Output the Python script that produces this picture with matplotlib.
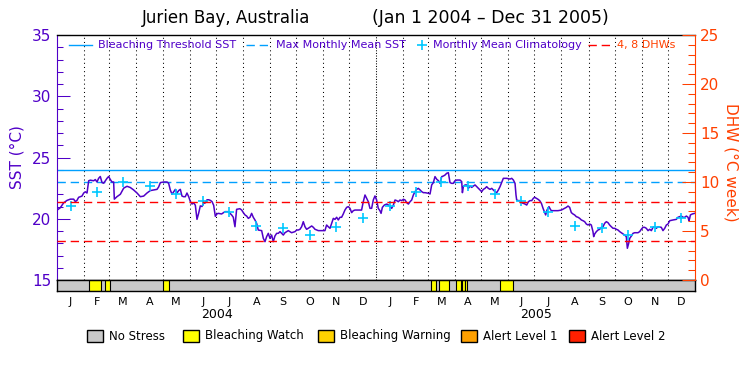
import numpy as np
import matplotlib
matplotlib.use('Agg')

import matplotlib.pyplot as plt
import matplotlib.transforms as mtransforms
from matplotlib.patches import Rectangle


TITLE_LEFT = 'Jurien Bay, Australia'
TITLE_RIGHT = '(Jan 1 2004 \u2013 Dec 31 2005)'
START = np.datetime64('2004-01-01')

# daily SST trace (day offset from Jan 1 2004, deg C)
sst_day = [
    0, 3.8, 7.6, 11.5, 15.3, 19.1, 21, 22.9, 24.8, 28.6, 30.6, 32.5, 34.4, 36.3, 38.2, 42, 43.9,
    45.8, 47.7, 49.6, 51.6, 53.5, 55.4, 57.3, 59.2, 61.1, 63, 64.9, 65.7, 68.7, 72.6, 76.4, 80.2,
    84, 87.8, 91.7, 95.5, 99.3, 103.1, 106.9, 110.8, 114.6, 116.5, 118.4, 122.2, 126, 127.9,
    129.8, 131.8, 133.7, 135.6, 137.5, 139.4, 141.3, 143.2, 145.1, 147, 148.9, 150.9, 152.8,
    154.7, 156.6, 158.5, 160.4, 162.3, 164.2, 166.1, 168, 170, 171.9, 173.8, 175.7, 177.6,
    179.5, 181.4, 183.3, 184.8, 188.6, 192.5, 196.3, 200.1, 202, 203.9, 205.8, 209.6, 211.6,
    213.5, 215.4, 217.3, 219.2, 221.1, 223, 224.9, 226.8, 228.7, 230.6, 234.5, 236.4, 238.3,
    240.2, 242.1, 244, 245.9, 247.8, 249.7, 251.7, 253.6, 255.5, 257.4, 259.3, 261.2, 265,
    268.8, 272.7, 274.6, 276.5, 278.4, 280.3, 282.2, 284.1, 286, 287.9, 291.8, 293.7, 295.6,
    299.4, 303.2, 307, 308.9, 310.8, 312.8, 316.6, 318.5, 320.4, 322.3, 324.2, 326.1, 328,
    329.9, 331.9, 333.8, 335.7, 337.6, 339.5, 341.4, 349, 350.9, 352.9, 354.8, 356.7, 358.6,
    360.5, 362.4, 364.3, 366.2, 368.1, 370, 371.3, 372.8, 375.1, 377.8, 379.7, 381.6, 383.5,
    385.4, 387.3, 389.2, 391.1, 393, 395, 396.9, 398.8, 400.7, 402.6, 404.5, 406.4, 408.3,
    410.2, 412.1, 414, 416, 417.9, 419.8, 421.7, 425.5, 427.4, 429.3, 431.2, 433.1, 435.1, 437,
    438.9, 440.8, 442.7, 444.6, 446.5, 448.4, 450.3, 452.2, 454.1, 456.1, 458, 461.8, 463.7,
    464.5, 465.6, 467.5, 469.4, 471.3, 473.2, 475.2, 477.1, 479, 480.9, 482.8, 484.7, 486.6,
    488.5, 490.4, 492.3, 494.2, 496.2, 498.1, 500, 501.9, 503.8, 505.7, 507.6, 509.5, 511.4,
    515.2, 519.1, 521, 522.9, 524.8, 525.9, 526.7, 528.6, 530.5, 532.4, 534.3, 536.3, 538.2,
    540.1, 542, 543.9, 545.8, 547.3, 549.2, 551.1, 553, 555, 556.9, 558.8, 559.9, 561.4, 563.7,
    565.3, 566.4, 570.2, 574, 577.9, 581.7, 583.6, 585.5, 587.4, 589.3, 591.2, 593.1, 595, 597,
    598.9, 600.8, 602.7, 604.6, 606.5, 608.4, 610.3, 612.2, 614.1, 614.9, 616.1, 618, 619.9,
    621.8, 623.7, 625.6, 627.5, 629.4, 631.3, 633.2, 635.1, 637.1, 639, 640.9, 642.8, 644.7,
    646.6, 648.5, 650.4, 652.3, 653.5, 655, 656.2, 658.1, 660, 661.9, 665.7, 667.6, 669.5,
    671.4, 673.3, 675.2, 677.2, 679.1, 681, 682.9, 684.8, 686.7, 688.6, 692.4, 694.3, 696.3,
    698.2, 700.1, 702, 705.8, 709.6, 711.5, 713.4, 715.3, 717.3, 719.2, 721.1, 723, 724.1,
    724.9, 725.7, 727.9, 730.6,
]
sst_val = [
    20.7, 20.9, 21.3, 21.5, 21.6, 21.6, 21.4, 21.5, 21.75, 21.85, 22.1, 22.2, 22.1, 23.1, 23.15,
    23.1, 23.2, 23.0, 23.3, 23.45, 22.95, 22.9, 23.1, 23.3, 23.45, 23.2, 23.0, 23.0, 21.6, 21.8,
    22.0, 22.5, 22.65, 22.55, 22.35, 22.1, 21.8, 21.85, 22.1, 22.3, 22.35, 22.4, 22.6, 22.95,
    23.0, 23.0, 22.9, 22.35, 22.0, 22.2, 22.4, 22.1, 22.3, 22.4, 21.85, 21.8, 21.8, 22.1, 21.8,
    21.4, 21.2, 21.3, 21.1, 19.95, 20.45, 21.05, 21.0, 21.25, 21.3, 21.55, 21.55, 21.5, 21.4,
    21.1, 20.2, 20.4, 20.44, 20.39, 20.58, 20.58, 20.31, 20.12, 19.35, 20.77, 20.82, 20.71,
    20.5, 20.31, 20.22, 20.03, 20.12, 20.44, 20.12, 19.9, 19.63, 19.08, 19.03, 18.4, 18.13,
    18.54, 18.81, 18.4, 18.67, 18.13, 18.59, 18.81, 18.81, 18.95, 18.81, 18.67, 18.86, 19.03,
    18.86, 18.95, 19.08, 19.08, 19.14, 19.35, 19.76, 19.35, 19.14, 19.22, 19.41, 19.3, 19.14,
    19.03, 19.03, 19.03, 19.49, 19.35, 19.22, 20.03, 19.95, 20.12, 19.9, 20.12, 20.12, 20.39,
    20.71, 20.93, 20.99, 20.85, 20.5, 20.66, 20.71, 20.71, 21.39, 21.94, 21.67, 21.39, 20.85,
    20.85, 21.53, 21.86, 21.53, 20.85, 20.66, 20.44, 20.93, 21.12, 21.2, 21.12, 20.99, 20.85,
    21.12, 21.53, 21.48, 21.39, 21.53, 21.48, 21.59, 21.53, 21.31, 21.2, 21.39, 21.53, 21.94,
    22.21, 22.4, 22.48, 22.35, 22.21, 22.13, 22.13, 22.08, 22.02, 22.76, 22.95, 23.44, 23.22,
    23.11, 22.89, 23.44, 23.49, 23.57, 23.71, 23.76, 22.95, 22.89, 22.89, 23.11, 23.16, 23.16,
    23.03, 22.13, 22.62, 22.76, 22.76, 22.48, 22.67, 22.56, 22.67, 22.76, 22.62, 22.48, 22.35,
    22.21, 22.4, 22.48, 22.62, 22.48, 22.4, 22.48, 22.35, 22.21, 22.13, 22.35, 22.62, 22.95,
    23.3, 23.3, 23.24, 23.3, 23.16, 22.89, 21.94, 21.53, 21.48, 21.48, 21.31, 21.26, 21.2,
    21.12, 21.39, 21.48, 21.48, 21.67, 21.75, 21.67, 21.59, 21.48, 21.26, 20.85, 20.5, 20.31,
    20.71, 20.99, 20.77, 20.66, 20.66, 20.66, 20.71, 20.85, 20.93, 21.04, 20.93, 20.5, 20.39,
    20.31, 20.17, 20.12, 20.03, 19.9, 19.84, 19.76, 19.57, 19.49, 19.57, 19.49, 18.95, 18.54,
    18.76, 18.95, 19.08, 19.14, 19.3, 19.35, 19.63, 19.76, 19.68, 19.49, 19.35, 19.22, 19.22,
    19.14, 19.08, 18.95, 18.86, 18.76, 18.67, 18.54, 17.59, 17.99, 18.4, 18.59, 18.81, 18.86,
    18.86, 18.95, 19.14, 19.3, 19.3, 19.22, 19.03, 19.14, 19.03, 19.3, 19.35, 19.22, 19.35,
    19.3, 19.03, 19.22, 19.49, 19.57, 19.84, 19.9, 19.95, 20.12, 20.17, 20.22, 20.12, 20.12,
    20.22, 20.12, 19.84, 20.03, 20.31, 20.39, 20.44,
]

# monthly mean climatology (Jan..Dec), deg C
clim_sst = [21.07, 22.16, 22.97, 22.67, 22.02, 21.45, 20.52, 19.43, 19.22, 18.67, 19.35, 20.03]
mmm_sst = 23.0
threshold_sst = 24.0
dhw_levels = [4, 8]

# stress periods (day offsets), level index into stress_names
stress_start = [37, 55, 121, 429, 438, 457, 464.5, 468, 508]
stress_end = [50, 61, 128, 434, 449, 463, 467, 470, 523]
stress_level = [1, 1, 1, 1, 1, 1, 1, 1, 1]

stress_names = ['No Stress', 'Bleaching Watch', 'Bleaching Warning', 'Alert Level 1', 'Alert Level 2']
stress_colors = ['#c8c8c8', '#ffff00', '#ffd200', '#ffa000', '#ff2000']
month_letters = list('JFMAMJJASOND')
year_labels = ['2004', '2005']

legend_labels = ['Bleaching Threshold SST', 'Max Monthly Mean SST', 'Monthly Mean Climatology', '4, 8 DHWs']

PURPLE = '#5000c8'
ORANGE = '#ff4000'
RED = '#ff0000'
BLUE = '#00a0ff'
CYAN = '#00c8ff'
DASH = (0, (6, 3.5))

W, H = 750.0, 375.0
AX_L, AX_R, AX_T, AX_B = 57, 695, 35, 280

months = np.arange('2004-01', '2006-02', dtype='datetime64[M]')
month_start = (months.astype('datetime64[D]') - START).astype(int)
month_mid = (month_start[:-1] + month_start[1:]) / 2.0
year_start = month_start[::12]
year_mid = (year_start[:-1] + year_start[1:]) / 2.0
n_days = month_start[-1]

fig = plt.figure(figsize=(7.5, 3.75), dpi=100)
ax = fig.add_axes([AX_L / W, 1 - AX_B / H, (AX_R - AX_L) / W, (AX_B - AX_T) / H])
ax_bar = fig.add_axes([AX_L / W, 1 - 291 / H, (AX_R - AX_L) / W, 11 / H])

ax.set_xlim(0, n_days)
ax.set_ylim(15, 35)
ax.set_xticks([])

# month grid
for d in month_start[1:-1]:
    style = (0, (1, 1.5)) if d in year_start else (0, (1, 3))
    ax.axvline(d, color='black', lw=0.75, ls=style, zorder=1)

ax.axhline(threshold_sst, color=BLUE, lw=1.0, zorder=2)
ax.axhline(mmm_sst, color=BLUE, lw=1.0, ls=DASH, zorder=2)
ax.plot(month_mid, np.tile(clim_sst, 2), ls='none', marker='+', color=CYAN, ms=7, mew=1.2, zorder=4)
ax.plot(sst_day, sst_val, color=PURPLE, lw=1.1, zorder=3)

ax.set_yticks(np.arange(15, 36, 5))
ax.set_yticks(np.arange(15, 36, 1), minor=True)
ax.tick_params(axis='y', which='major', direction='in', length=9.5, width=0.75, color=PURPLE,
               labelcolor=PURPLE, labelsize=11, pad=4)
ax.tick_params(axis='y', which='minor', direction='in', length=4.5, width=0.75, color=PURPLE)
ax.spines['left'].set_color(PURPLE)
ax.spines['right'].set_visible(False)
for s in ['top', 'bottom']:
    ax.spines[s].set_color('black')
    ax.spines[s].set_linewidth(1.0)

ax2 = ax.twinx()
ax2.set_ylim(0, 25)
for lvl in dhw_levels:
    ax2.axhline(lvl, color=RED, lw=1.0, ls=DASH, zorder=2)
ax2.set_yticks(np.arange(0, 26, 5))
ax2.set_yticks(np.arange(0, 26, 1), minor=True)
ax2.tick_params(axis='y', which='major', direction='in', length=9.5, width=0.75, color=ORANGE,
                labelcolor=ORANGE, labelsize=11, pad=3.5)
ax2.tick_params(axis='y', which='minor', direction='in', length=5, width=0.75, color=ORANGE)
ax2.spines['right'].set_color(ORANGE)
for s in ['left', 'top', 'bottom']:
    ax2.spines[s].set_visible(False)


# in-plot legend, drawn by hand so each entry sits where the original has it
def axfrac(px):
    return (px - AX_L) / (AX_R - AX_L)


leg_y = (AX_B - 45) / (AX_B - AX_T)
kw = dict(transform=ax2.transAxes, clip_on=False)
ax2.plot([axfrac(69), axfrac(92)], [leg_y, leg_y], color=BLUE, lw=1.0, **kw)
ax2.plot([axfrac(246), axfrac(270)], [leg_y, leg_y], color=BLUE, lw=1.0, ls=DASH, **kw)
ax2.plot([axfrac(421.5)], [leg_y], ls='none', marker='+', color=CYAN, ms=7, mew=1.2, **kw)
ax2.plot([axfrac(588), axfrac(611)], [leg_y, leg_y], color=RED, lw=1.0, ls=DASH, **kw)
for px, txt, col in zip([98, 276.5, 433, 617], legend_labels, [PURPLE, PURPLE, PURPLE, ORANGE]):
    ax2.text(axfrac(px), leg_y, txt, color=col, fontsize=8, ha='left', va='center',
             transform=ax2.transAxes)

fig.text(17 / W, 1 - 157 / H, 'SST (\u00b0C)', rotation=90, ha='center', va='center',
         color=PURPLE, fontsize=11)
fig.text(731 / W, 1 - 162 / H, 'DHW (\u00b0C week)', rotation=-90, ha='center', va='center',
         color=ORANGE, fontsize=11)
fig.text(142 / W, 1 - 18 / H, TITLE_LEFT, ha='left', va='center', fontsize=12)
fig.text(609 / W, 1 - 18 / H, TITLE_RIGHT, ha='right', va='center', fontsize=12.5)

# stress bar
ax_bar.set_xlim(0, n_days)
ax_bar.set_ylim(0, 1)
ax_bar.set_facecolor(stress_colors[0])
for s0, s1, lv in zip(stress_start, stress_end, stress_level):
    ax_bar.axvspan(s0, s1, facecolor=stress_colors[lv], edgecolor='black', lw=0.8)
ax_bar.set_yticks([])
ax_bar.set_xticks(month_mid)
ax_bar.set_xticklabels(month_letters * 2, fontsize=8)
ax_bar.tick_params(axis='x', length=0, pad=4)
for s in ax_bar.spines.values():
    s.set_color('black')
    s.set_linewidth(1.0)

trans = mtransforms.blended_transform_factory(ax_bar.transData, fig.transFigure)
for xm, yl in zip(year_mid, year_labels):
    ax_bar.text(xm, 1 - 315 / H, yl, transform=trans, ha='center', va='center', fontsize=9)

# stress legend under the chart
box_x = [87, 183, 318, 461, 569]
for bx, name, col in zip(box_x, stress_names, stress_colors):
    fig.add_artist(Rectangle((bx / W, 1 - 342 / H), 16 / W, 12 / H, facecolor=col,
                             edgecolor='black', lw=1.0, transform=fig.transFigure))
    fig.text((bx + 22) / W, 1 - 336 / H, name, ha='left', va='center', fontsize=8.5)

fig.savefig('out.png', dpi=100)
plt.close()
